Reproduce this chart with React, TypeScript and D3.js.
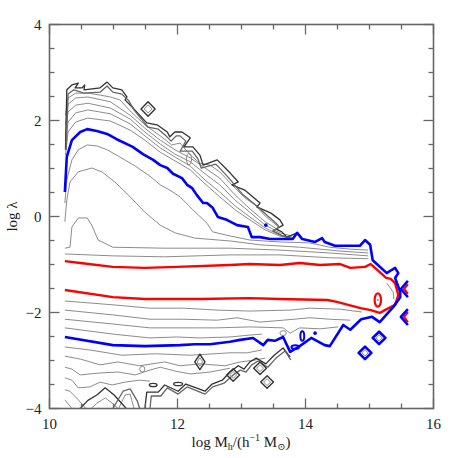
import React from "react";
import * as d3 from "d3";

type Pt = [number, number];
type Island = { x: number; y: number; rx: number; ry: number };

// axis ticks
const xLabels = [10, 12, 14, 16];
const yLabels = [-4, -2, 0, 2, 4];

// red contour (open at the low-mass edge): upper branch, around, lower branch
const redContour: Pt[] = [
  [10.24, -0.93], [10.48, -0.97], [10.99, -1.05], [11.49, -1.07], [11.99, -1.05], [12.82, -1.01],
  [13.13, -0.99], [13.6, -1.01], [13.91, -0.97], [14.23, -1.01], [14.54, -0.99], [14.7, -1.07],
  [14.93, -1.05], [15.02, -0.99], [15.26, -1.28], [15.33, -1.3], [15.4, -1.39], [15.45, -1.64],
  [15.4, -1.84], [15.24, -1.95], [15.16, -2.01], [15.02, -1.95], [14.86, -1.91], [14.49, -1.78],
  [14.34, -1.74], [13.6, -1.72], [13.13, -1.7], [12.35, -1.72], [11.49, -1.72], [10.99, -1.68],
  [10.24, -1.53],
];

const blueContour: Pt[] = [
  [10.24, 0.51], [10.27, 1.24], [10.35, 1.59], [10.48, 1.76], [10.59, 1.82], [10.74, 1.78],
  [10.9, 1.72], [11.05, 1.61], [11.3, 1.45], [11.46, 1.3], [11.62, 1.18], [11.73, 1.07],
  [11.84, 1.01], [11.93, 0.89], [12.07, 0.8], [12.15, 0.66], [12.23, 0.59], [12.3, 0.45],
  [12.4, 0.28], [12.46, 0.28], [12.55, 0.18], [12.63, -0.01], [12.77, -0.07], [12.93, -0.18],
  [13.1, -0.22], [13.16, -0.43], [13.29, -0.43], [13.45, -0.47], [13.73, -0.47], [13.8, -0.47],
  [13.87, -0.34], [13.95, -0.47], [14.15, -0.53], [14.26, -0.45], [14.3, -0.53], [14.46, -0.61],
  [14.85, -0.61], [14.93, -0.49], [15.01, -0.59], [15.05, -0.91], [15.27, -1.18], [15.35, -1.11],
  [15.4, -1.07], [15.45, -1.18], [15.4, -1.28], [15.43, -1.39], [15.48, -1.57], [15.48, -1.68],
  [15.37, -1.89], [15.16, -2.2], [15.04, -2.09], [14.87, -2.14], [14.7, -2.36], [14.59, -2.26],
  [14.38, -2.7], [14.3, -2.68], [14.09, -2.53], [13.91, -2.7], [13.76, -2.82], [13.65, -2.51],
  [13.52, -2.59], [13.41, -2.57], [13.34, -2.68], [13.18, -2.53], [12.98, -2.57], [12.82, -2.61],
  [12.51, -2.66], [12.27, -2.66], [12.04, -2.68], [11.49, -2.7], [10.99, -2.68], [10.24, -2.51],
];

// gray levels between blue and red, upper side
const upperInner: Pt[][] = [
  [[10.24, 0.28], [10.27, 0.76], [10.35, 1.18], [10.45, 1.39], [10.59, 1.49], [10.74, 1.47], [10.9, 1.39],
   [11.1, 1.24], [11.34, 1.05], [11.57, 0.84], [11.73, 0.66], [11.88, 0.55], [12.04, 0.41], [12.24, 0.14],
   [12.46, -0.14], [12.55, -0.32], [12.77, -0.39], [13.13, -0.49], [13.6, -0.53], [14.07, -0.55],
   [14.38, -0.64], [14.7, -0.68], [14.98, -0.7]],
  [[10.24, -0.11], [10.27, 0.34], [10.32, 0.72], [10.45, 0.93], [10.66, 1.01], [10.82, 0.93], [11.02, 0.72],
   [11.23, 0.45], [11.49, 0.09], [11.73, -0.18], [11.96, -0.34], [12.27, -0.45], [12.82, -0.51],
   [13.29, -0.59], [13.91, -0.64], [14.54, -0.72], [14.98, -0.76]],
  [[10.24, -0.66], [10.32, -0.64], [10.35, -0.22], [10.45, -0.03], [10.59, -0.03], [10.66, -0.18],
   [10.76, -0.49], [10.99, -0.64], [11.8, -0.66], [12.82, -0.66], [13.6, -0.7], [14.38, -0.76], [14.98, -0.82]],
  [[10.24, -0.78], [10.99, -0.82], [11.8, -0.84], [12.82, -0.8], [13.6, -0.8], [14.38, -0.86], [14.98, -0.88]],
];

// gray levels between red and blue, lower side
const lowerInner: Pt[][] = [
  [[10.24, -1.76], [10.99, -1.84], [11.57, -1.91], [12.09, -1.91], [12.62, -1.95], [13.13, -1.97],
   [13.76, -1.95], [14.07, -1.91], [14.54, -1.93], [14.88, -1.99]],
  [[10.24, -1.95], [10.99, -2.05], [11.57, -2.14], [12.09, -2.14], [12.62, -2.16], [12.93, -2.11],
   [13.29, -2.2], [13.65, -2.16], [14.07, -2.11], [14.38, -2.14], [14.7, -2.16]],
  [[10.24, -2.14], [10.99, -2.24], [11.57, -2.32], [12.62, -2.32], [13.13, -2.3], [13.65, -2.32],
   [13.76, -2.43], [13.91, -2.32], [14.23, -2.34], [14.51, -2.3]],
  [[10.24, -2.32], [10.99, -2.45], [11.57, -2.53], [11.99, -2.51], [12.35, -2.53], [12.82, -2.51],
   [13.13, -2.47], [13.32, -2.45]],
];

// gray levels outside blue, upper side
const upperOuter: Pt[][] = [
  [[10.25, 1.28], [10.29, 1.76], [10.41, 1.97], [10.6, 2.05], [10.95, 1.99], [11.26, 1.8], [11.49, 1.59],
   [11.73, 1.34], [11.96, 1.16], [12.2, 0.97], [12.43, 0.68], [12.66, 0.41], [12.9, 0.14], [13.13, -0.07],
   [13.37, -0.28], [13.6, -0.41], [13.79, -0.45]],
  [[10.25, 1.49], [10.29, 1.97], [10.41, 2.16], [10.6, 2.22], [10.95, 2.14], [11.26, 1.93], [11.49, 1.68],
   [11.73, 1.43], [11.96, 1.24], [12.2, 1.05], [12.43, 0.76], [12.66, 0.51], [12.9, 0.22], [13.13, -0.01],
   [13.37, -0.24], [13.6, -0.39], [13.79, -0.43]],
  [[10.25, 1.7], [10.29, 2.18], [10.41, 2.32], [10.6, 2.36], [10.95, 2.26], [11.26, 2.03], [11.49, 1.76],
   [11.73, 1.51], [11.96, 1.3], [12.2, 1.14], [12.43, 0.89], [12.66, 0.66], [12.9, 0.34], [13.13, 0.09],
   [13.37, -0.18], [13.6, -0.34], [13.79, -0.41]],
  [[10.25, 1.91], [10.29, 2.34], [10.41, 2.47], [10.6, 2.49], [10.95, 2.39], [11.26, 2.11], [11.49, 1.84],
   [11.73, 1.59], [11.96, 1.39], [12.2, 1.22], [12.43, 1.01], [12.66, 0.8], [12.9, 0.45], [13.13, 0.16],
   [13.37, -0.11], [13.6, -0.3]],
  [[10.25, 2.11], [10.29, 2.47], [10.41, 2.57], [10.6, 2.57], [10.79, 2.53], [10.95, 2.49], [11.1, 2.43],
   [11.26, 2.2], [11.49, 1.91], [11.73, 1.68], [11.91, 1.49], [12.04, 1.53], [12.2, 1.28], [12.35, 1.11],
   [12.51, 1.07], [12.66, 0.93], [12.85, 0.66], [13.05, 0.39], [13.21, 0.24], [13.37, 0.01], [13.6, -0.24]],
];

// gray levels outside blue, lower side
const lowerOuter: Pt[][] = [
  [[10.24, -2.72], [10.63, -2.78], [11.13, -2.89], [11.65, -2.86], [12.2, -2.89], [12.82, -2.84],
   [13.09, -2.84], [13.32, -2.78]],
  [[10.24, -2.91], [10.48, -2.97], [10.79, -3.09], [11.07, -3.03], [11.41, -3.11], [11.8, -3.03],
   [12.04, -3.11], [12.35, -3.07], [12.74, -3.11], [12.98, -3.03], [13.21, -2.99], [13.37, -2.95]],
  [[10.24, -3.14], [10.35, -3.18], [10.48, -3.3], [10.79, -3.26], [11.07, -3.24], [11.34, -3.3],
   [11.57, -3.2], [11.73, -3.14], [11.96, -3.22], [12.2, -3.28], [12.51, -3.24], [12.82, -3.16]],
  [[10.24, -3.36], [10.35, -3.41], [10.45, -3.57], [10.63, -3.55], [10.79, -3.45], [10.98, -3.51],
   [11.18, -3.45], [11.41, -3.41], [11.57, -3.43]],
  [[10.24, -3.61], [10.32, -3.64], [10.45, -3.82], [10.57, -4.0]],
  [[10.24, -3.82], [10.35, -4.0]],
  [[11.08, -4.0], [11.18, -3.72], [11.26, -3.7], [11.32, -4.0]],
  [[10.65, -4.0], [10.74, -3.89], [10.87, -3.78], [10.98, -3.89], [11.07, -4.0]],
  [[15.27, -1.39], [15.37, -1.57], [15.38, -1.72]],
];

// outermost (dark) levels
const darkEdges: Pt[][] = [
  [[10.25, 1.39], [10.27, 2.64], [10.35, 2.74], [10.45, 2.78], [10.4, 2.68], [10.51, 2.68], [10.55, 2.74],
   [10.54, 2.64], [10.79, 2.68], [10.9, 2.8], [10.99, 2.68], [11.13, 2.64], [11.21, 2.49], [11.18, 2.43],
   [11.29, 2.28], [11.52, 1.95], [11.68, 1.91], [11.84, 1.76], [11.88, 1.66], [11.96, 1.76], [12.07, 1.76],
   [12.2, 1.64], [12.1, 1.45], [12.24, 1.45], [12.35, 1.28], [12.4, 1.07], [12.62, 1.18], [12.82, 0.91],
   [12.95, 0.72], [12.85, 0.66], [13.05, 0.55], [13.29, 0.28], [13.24, 0.2], [13.46, 0.07], [13.6, -0.07],
   [13.65, -0.18], [13.54, -0.26], [13.63, -0.32], [13.71, -0.43], [13.87, -0.34]],
  [[10.26, 1.39], [10.29, 2.55], [10.38, 2.64], [10.54, 2.57], [10.79, 2.59], [10.9, 2.72], [10.99, 2.59],
   [11.13, 2.55], [11.24, 2.41], [11.32, 2.22], [11.54, 1.86], [11.7, 1.82], [11.82, 1.68], [11.9, 1.57],
   [11.98, 1.68], [12.04, 1.68], [12.13, 1.57], [12.04, 1.36], [12.23, 1.36], [12.32, 1.2], [12.37, 1.01],
   [12.6, 1.09], [12.79, 0.82], [12.88, 0.68], [13.01, 0.47], [13.24, 0.22], [13.41, 0.01], [13.54, -0.14],
   [13.59, -0.22], [13.49, -0.3], [13.65, -0.41], [13.8, -0.47]],
  [[11.49, -4.0], [11.52, -3.66], [11.7, -3.66], [11.8, -3.51], [12.01, -3.64], [12.13, -3.49],
   [12.43, -3.64], [12.54, -3.49], [12.7, -3.41], [12.82, -3.24], [12.95, -3.11], [13.04, -3.18],
   [13.13, -3.03], [13.23, -2.95], [13.38, -3.07], [13.51, -2.89], [13.65, -2.74], [13.76, -2.93]],
  [[11.57, -4.0], [11.59, -3.74], [11.74, -3.74], [11.84, -3.57], [12.01, -3.7], [12.15, -3.55],
   [12.43, -3.7], [12.55, -3.55], [12.73, -3.47], [12.87, -3.3], [12.98, -3.2], [13.07, -3.24],
   [13.16, -3.09], [13.26, -3.01], [13.41, -3.14], [13.54, -2.95], [13.68, -2.8], [13.77, -2.99]],
  [[10.48, -4.0], [10.6, -3.83], [10.74, -3.72], [10.87, -3.57], [11.01, -3.72], [11.2, -4.0]],
  [[10.99, -4.0], [11.15, -3.64], [11.26, -3.59], [11.37, -3.84], [11.41, -4.0]],
];

// edge fragments at the high-mass end
const blueEdges: Pt[][] = [
  [[15.6, -1.34], [15.49, -1.51], [15.6, -1.68]],
  [[15.6, -1.93], [15.49, -2.09], [15.6, -2.26]],
];
const redEdges: Pt[][] = [
  [[15.6, -1.41], [15.54, -1.51], [15.6, -1.61]],
  [[15.6, -1.99], [15.54, -2.09], [15.6, -2.2]],
];

// small closed islands
const darkDiamonds: Island[] = [
  { x: 11.54, y: 2.24, rx: 0.11, ry: 0.15 },
  { x: 12.87, y: -3.3, rx: 0.1, ry: 0.13 },
  { x: 13.29, y: -3.16, rx: 0.1, ry: 0.13 },
  { x: 13.4, y: -3.45, rx: 0.1, ry: 0.13 },
  { x: 12.35, y: -3.03, rx: 0.08, ry: 0.16 },
];
const blueDiamonds: Island[] = [
  { x: 14.93, y: -2.84, rx: 0.1, ry: 0.13 },
  { x: 15.15, y: -2.53, rx: 0.1, ry: 0.13 },
];
const darkOvals: Island[] = [
  { x: 11.62, y: -3.51, rx: 0.06, ry: 0.035 },
  { x: 12.01, y: -3.49, rx: 0.07, ry: 0.035 },
];
const grayOvals: Island[] = [
  { x: 11.45, y: -3.18, rx: 0.04, ry: 0.06 },
  { x: 13.65, y: -2.43, rx: 0.05, ry: 0.05 },
  { x: 12.18, y: 1.2, rx: 0.04, ry: 0.12 },
];
const blueOvals: Island[] = [
  { x: 13.95, y: -2.49, rx: 0.03, ry: 0.1 },
  { x: 13.84, y: -2.72, rx: 0.06, ry: 0.04 },
];
const redOvals: Island[] = [{ x: 15.13, y: -1.74, rx: 0.05, ry: 0.14 }];
const blueDots: Pt[] = [[14.15, -2.43], [13.38, -0.18]];

const W = 458;
const H = 458;

export default function App() {
  const x = d3.scaleLinear().domain([10, 16]).range([49.5, 433.5]);
  const y = d3.scaleLinear().domain([-4, 4]).range([408.5, 24.5]);
  const line = d3.line<Pt>().x((d) => x(d[0])).y((d) => y(d[1]));

  const diamond = (d: Island, k: number) =>
    `M${x(d.x - d.rx * k)},${y(d.y)}L${x(d.x)},${y(d.y + d.ry * k)}L${x(d.x + d.rx * k)},${y(d.y)}L${x(d.x)},${y(d.y - d.ry * k)}Z`;

  const gray = "#8c8c8c";
  const dark = "#333";
  const frame = "#666";
  const font = "'Liberation Serif', 'DejaVu Serif', serif";

  const x0 = x.range()[0], x1 = x.range()[1];
  const y0 = y.range()[0], y1 = y.range()[1];

  return (
    <svg width={W} height={H} style={{ position: "absolute", left: 0, top: 0, background: "#fff" }}>
      <g fill="none" strokeLinejoin="round">
        {[...upperInner, ...lowerInner, ...upperOuter, ...lowerOuter].map((c, i) => (
          <path key={"g" + i} d={line(c) || ""} stroke={gray} strokeWidth={1} />
        ))}
        {grayOvals.map((d, i) => (
          <ellipse key={"go" + i} cx={x(d.x)} cy={y(d.y)} rx={x(d.x + d.rx) - x(d.x)} ry={y(d.y) - y(d.y + d.ry)} stroke={gray} />
        ))}
        {darkEdges.map((c, i) => (
          <path key={"k" + i} d={line(c) || ""} stroke={i % 2 ? "#666" : dark} strokeWidth={1.3} />
        ))}
        {darkDiamonds.map((d, i) => (
          <g key={"dd" + i}>
            <path d={diamond(d, 1)} stroke={dark} strokeWidth={1.4} />
            <path d={diamond(d, 0.55)} stroke={gray} strokeWidth={1} />
          </g>
        ))}
        {darkOvals.map((d, i) => (
          <ellipse key={"ko" + i} cx={x(d.x)} cy={y(d.y)} rx={x(d.x + d.rx) - x(d.x)} ry={y(d.y) - y(d.y + d.ry)} stroke={dark} strokeWidth={1.3} />
        ))}
        <path d={line(redContour) || ""} stroke="#ff0000" strokeWidth={2.4} />
        {redEdges.map((c, i) => (
          <path key={"re" + i} d={line(c) || ""} stroke="#ff0000" strokeWidth={2.2} />
        ))}
        {redOvals.map((d, i) => (
          <g key={"ro" + i}>
            <ellipse cx={x(d.x)} cy={y(d.y)} rx={x(d.x + d.rx) - x(d.x)} ry={y(d.y) - y(d.y + d.ry)} stroke="#ff0000" strokeWidth={2.2} />
            <circle cx={x(d.x)} cy={y(d.y)} r={1} fill={gray} stroke="none" />
          </g>
        ))}
        <path d={line(blueContour) || ""} stroke="#0000ff" strokeWidth={2.6} />
        {blueEdges.map((c, i) => (
          <path key={"be" + i} d={line(c) || ""} stroke="#0000ff" strokeWidth={2.6} />
        ))}
        {blueDiamonds.map((d, i) => (
          <g key={"bd" + i}>
            <path d={diamond(d, 1)} stroke="#0000ff" strokeWidth={2.6} />
            <path d={diamond(d, 0.5)} stroke={gray} strokeWidth={1} />
          </g>
        ))}
        {blueOvals.map((d, i) => (
          <ellipse key={"bo" + i} cx={x(d.x)} cy={y(d.y)} rx={x(d.x + d.rx) - x(d.x)} ry={y(d.y) - y(d.y + d.ry)} stroke="#0000ff" strokeWidth={2} />
        ))}
        {blueDots.map((d, i) => (
          <circle key={"bdot" + i} cx={x(d[0])} cy={y(d[1])} r={1.8} fill="#0000ff" stroke="none" />
        ))}
      </g>

      {/* frame and ticks */}
      <rect x={x0} y={y1} width={x1 - x0} height={y0 - y1} fill="none" stroke={frame} strokeWidth={1.6} />
      <g stroke={frame} strokeWidth={1.3}>
        {x.ticks(12).map((v) => {
          const len = v % 2 === 0 ? 10 : 5;
          return (
            <g key={"xt" + v}>
              <line x1={x(v)} x2={x(v)} y1={y0} y2={y0 - len} />
              <line x1={x(v)} x2={x(v)} y1={y1} y2={y1 + len} />
            </g>
          );
        })}
        {y.ticks(16).map((v) => {
          const len = v % 2 === 0 ? 10 : 5;
          return (
            <g key={"yt" + v}>
              <line x1={x0} x2={x0 + len} y1={y(v)} y2={y(v)} />
              <line x1={x1} x2={x1 - len} y1={y(v)} y2={y(v)} />
            </g>
          );
        })}
      </g>

      <g fontFamily={font} fontSize={15} fill="#222">
        {xLabels.map((v) => (
          <text key={"xl" + v} x={x(v)} y={y0 + 20} textAnchor="middle">{v}</text>
        ))}
        {yLabels.map((v) => (
          <text key={"yl" + v} x={x0 - 8} y={y(v) + 5} textAnchor="end">
            {v < 0 ? "\u2212" + Math.abs(v) : String(v)}
          </text>
        ))}
        <text x={241} y={447} textAnchor="middle">
          log M<tspan fontSize={10} dy={3}>h</tspan>
          <tspan dy={-3}>/(h</tspan>
          <tspan fontSize={10} dy={-6}>{"\u22121"}</tspan>
          <tspan dy={6}> M</tspan>
          <tspan fontSize={10} dy={3}>{"\u2299"}</tspan>
          <tspan dy={-3}>)</tspan>
        </text>
        <text transform={`translate(17,${y(0)}) rotate(-90)`} textAnchor="middle">log λ</text>
      </g>
    </svg>
  );
}
